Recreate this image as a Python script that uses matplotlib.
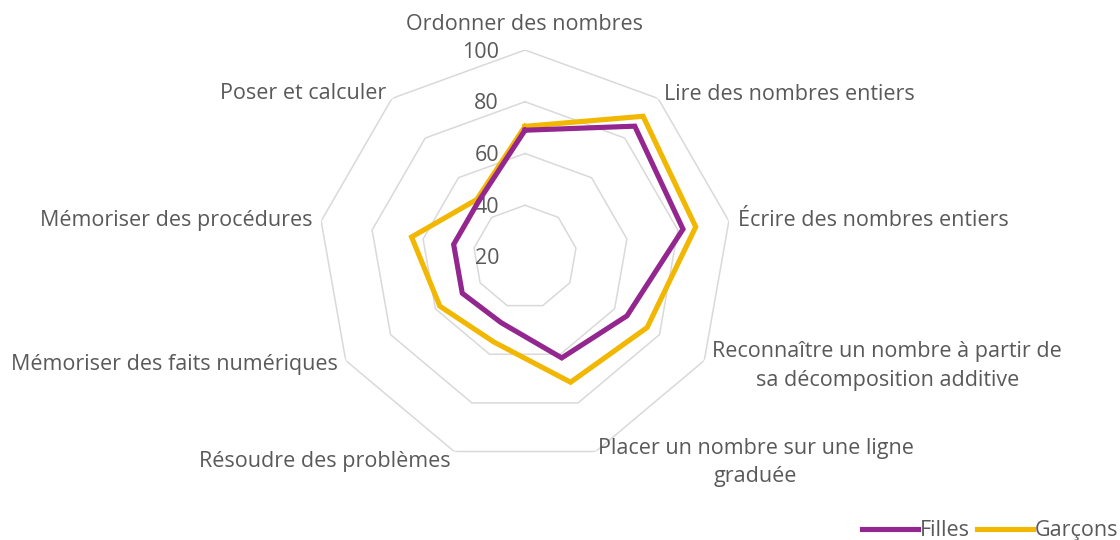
import numpy as np
import matplotlib
matplotlib.use("Agg")
import matplotlib.pyplot as plt

categories = [
    "Ordonner des nombres",
    "Lire des nombres entiers",
    "Écrire des nombres entiers",
    "Reconnaître un nombre à partir de\nsa décomposition additive",
    "Placer un nombre sur une ligne\ngraduée",
    "Résoudre des problèmes",
    "Mémoriser des faits numériques",
    "Mémoriser des procédures",
    "Poser et calculer",
]
filles = [69, 86, 82, 65.5, 61.5, 47, 48, 48, 48]
garcons = [70.5, 91, 87, 74.5, 71.5, 55, 58, 64.5, 49]
rings = [20, 40, 60, 80, 100]

purple = "#93278F"
gold = "#F2B700"
grid_col = "#D9D9D9"
txt = "#595959"

plt.rcParams["font.family"] = ["Open Sans", "DejaVu Sans"]
fs = 15.5

fig = plt.figure(figsize=(11.2, 5.4), dpi=100)
ax = fig.add_axes([318 / 1120, 76 / 540, 414 / 1120, 414 / 540], projection="polar")
ax.set_theta_zero_location("N")
ax.set_theta_direction(-1)
ax.set_ylim(20, 100)
ax.grid(False)
ax.spines["polar"].set_visible(False)
ax.set_xticks([])
ax.set_yticks([])
ax.patch.set_alpha(0)

n = len(categories)
theta = np.arange(n) * 2 * np.pi / n
closed = np.append(theta, theta[0])

# polygon grid (Excel style)
for v in rings[1:]:
    ax.plot(closed, [v] * (n + 1), color=grid_col, lw=1.1, zorder=1)
for v in rings:
    ax.annotate(str(v), xy=(0, v), xytext=(-26, -2), textcoords="offset pixels",
                ha="right", va="center", fontsize=fs, color=txt)

ax.plot(closed, filles + filles[:1], color=purple, lw=3.7, zorder=3,
        solid_joinstyle="miter", label="Filles")
ax.plot(closed, garcons + garcons[:1], color=gold, lw=3.7, zorder=2,
        solid_joinstyle="miter", label="Garçons")

# category labels: offsets (px) from outer vertex, alignment
lab_pos = [
    ((0, 26), "center"),
    ((6, 4), "left"),
    ((9, 1), "left"),
    ((8, 19), "left"),
    ((2, 14), "left"),
    ((-4, -10), "right"),
    ((-8, -4), "right"),
    ((-9, 1), "right"),
    ((-6, 5), "right"),
]
for i, (lab, (off, ha)) in enumerate(zip(categories, lab_pos)):
    if "\n" in lab:
        ax.annotate(lab, xy=(theta[i], 100), xytext=off, textcoords="offset pixels",
                    ha=ha, va="top", fontsize=fs, color=txt, multialignment="center",
                    linespacing=1.45)
    else:
        ax.annotate(lab, xy=(theta[i], 100), xytext=off, textcoords="offset pixels",
                    ha=ha, va="center", fontsize=fs, color=txt)

fig.legend(loc="lower right", bbox_to_anchor=(1.008, -0.022), ncol=2, frameon=False,
           fontsize=fs, handlelength=2.6, handletextpad=0.1, columnspacing=0.3,
           labelcolor=txt, borderaxespad=0.1)

fig.savefig("out.png", dpi=100, facecolor="white")
